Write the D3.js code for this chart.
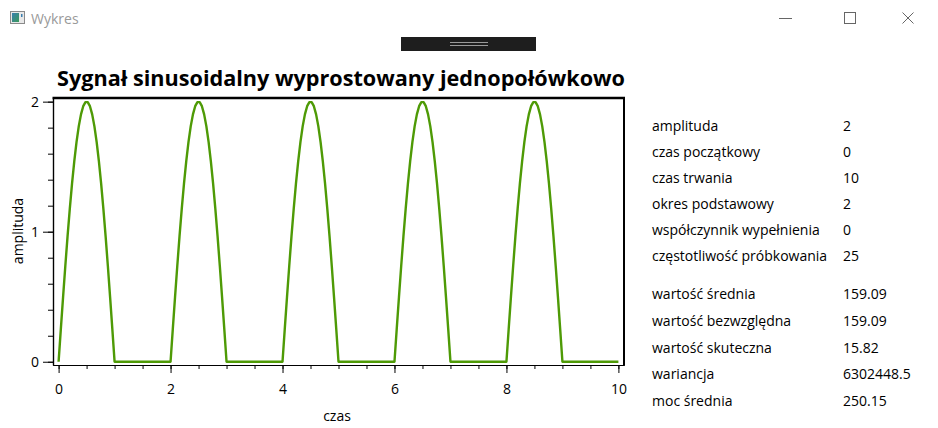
<!DOCTYPE html>
<html><head><meta charset="utf-8">
<script src="https://cdn.jsdelivr.net/npm/d3@7/dist/d3.min.js"></script>
<style>
body{margin:0;background:#fff;overflow:hidden;}
text{font-family:"Segoe UI","Open Sans","Noto Sans",sans-serif;}
</style>
</head><body>
<svg id="c" width="938" height="428"></svg>
<script>
const windowTitle = "Wykres";
const chartTitle = "Sygnał sinusoidalny wyprostowany jednopołówkowo";
const xLabel = "czas";
const yLabel = "amplituda";
const samplingRate = 25; // samples per time unit
const signalValues = [
0,0.251,0.497,0.736,0.964,1.176,1.369,1.541,1.689,1.81,1.902,1.965,1.996,1.996,1.965,1.902,1.81,1.689,1.541,1.369,1.176,0.964,0.736,0.497,0.251,
0,0,0,0,0,0,0,0,0,0,0,0,0,0,0,0,0,0,0,0,0,0,0,0,0,
0,0.251,0.497,0.736,0.964,1.176,1.369,1.541,1.689,1.81,1.902,1.965,1.996,1.996,1.965,1.902,1.81,1.689,1.541,1.369,1.176,0.964,0.736,0.497,0.251,
0,0,0,0,0,0,0,0,0,0,0,0,0,0,0,0,0,0,0,0,0,0,0,0,0,
0,0.251,0.497,0.736,0.964,1.176,1.369,1.541,1.689,1.81,1.902,1.965,1.996,1.996,1.965,1.902,1.81,1.689,1.541,1.369,1.176,0.964,0.736,0.497,0.251,
0,0,0,0,0,0,0,0,0,0,0,0,0,0,0,0,0,0,0,0,0,0,0,0,0,
0,0.251,0.497,0.736,0.964,1.176,1.369,1.541,1.689,1.81,1.902,1.965,1.996,1.996,1.965,1.902,1.81,1.689,1.541,1.369,1.176,0.964,0.736,0.497,0.251,
0,0,0,0,0,0,0,0,0,0,0,0,0,0,0,0,0,0,0,0,0,0,0,0,0,
0,0.251,0.497,0.736,0.964,1.176,1.369,1.541,1.689,1.81,1.902,1.965,1.996,1.996,1.965,1.902,1.81,1.689,1.541,1.369,1.176,0.964,0.736,0.497,0.251,
0,0,0,0,0,0,0,0,0,0,0,0,0,0,0,0,0,0,0,0,0,0,0,0,0,
0
];
const xTickLabels = [0, 2, 4, 6, 8, 10];
const yTickLabels = [0, 1, 2];
const paramNames = ["amplituda","czas początkowy","czas trwania","okres podstawowy","współczynnik wypełnienia","częstotliwość próbkowania"];
const paramValues = ["2","0","10","2","0","25"];
const statNames = ["wartość średnia","wartość bezwzględna","wartość skuteczna","wariancja","moc średnia"];
const statValues = ["159.09","159.09","15.82","6302448.5","250.15"];

const svg = d3.select("#c");
svg.append("rect").attr("width",938).attr("height",428).attr("fill","#fff");

// window chrome
const icon = svg.append("g");
icon.append("rect").attr("x",10.5).attr("y",11.5).attr("width",14).attr("height",12).attr("fill","#e8e8e8").attr("stroke","#8a8a8a");
const grad = svg.append("defs").append("linearGradient").attr("id","ig").attr("x1",0).attr("y1",0).attr("x2",1).attr("y2",1);
grad.append("stop").attr("offset",0).attr("stop-color","#3a7fb0");
grad.append("stop").attr("offset",1).attr("stop-color","#3b9a5a");
icon.append("rect").attr("x",12).attr("y",13).attr("width",7).attr("height",9).attr("fill","url(#ig)");
icon.append("rect").attr("x",21).attr("y",14).attr("width",1.5).attr("height",3).attr("fill","#3a7fb0");
svg.append("text").attr("x",31).attr("y",23.5).attr("font-size",14).attr("fill","#9a9a9a").text(windowTitle);
svg.append("line").attr("x1",779).attr("x2",792).attr("y1",18.5).attr("y2",18.5).attr("stroke","#666");
svg.append("rect").attr("x",844.5).attr("y",12.5).attr("width",11).attr("height",11).attr("fill","none").attr("stroke","#666");
svg.append("path").attr("d","M902.5,12.5L913.5,23.5M913.5,12.5L902.5,23.5").attr("stroke","#666");
// drag handle bar
svg.append("rect").attr("x",401).attr("y",37).attr("width",135).attr("height",14).attr("fill","#1e1e1e");
svg.append("line").attr("x1",450).attr("x2",488).attr("y1",42.5).attr("y2",42.5).attr("stroke","#9a9a9a");
svg.append("line").attr("x1",450).attr("x2",488).attr("y1",45.5).attr("y2",45.5).attr("stroke","#9a9a9a");

// title
svg.append("text").attr("x",57).attr("y",85.5).attr("font-size",22).attr("font-weight","bold")
  .attr("textLength",568).attr("lengthAdjust","spacingAndGlyphs").attr("fill","#000").text(chartTitle);

// scales
const x = d3.scaleLinear().domain([-0.1, 10.1]).range([53, 624]);
const y = d3.scaleLinear().domain([-0.025, 2.028]).range([365, 98]);

const ax = svg.append("g").attr("font-size",14);
// x axis
const gxMinor = ax.append("g").attr("transform","translate(0,365)")
  .call(d3.axisBottom(x).tickValues(d3.range(0,10.01,0.5)).tickSize(4).tickSizeOuter(0).tickFormat(""));
const gx = ax.append("g").attr("transform","translate(0,365)")
  .call(d3.axisBottom(x).tickValues(xTickLabels).tickSize(8).tickSizeOuter(0).tickFormat(d3.format("d")));
// y axis
const gyMinor = ax.append("g").attr("transform","translate(53,0)")
  .call(d3.axisLeft(y).tickValues(d3.range(0,2.01,0.2)).tickSize(5).tickSizeOuter(0).tickFormat(""));
const gy = ax.append("g").attr("transform","translate(53,0)")
  .call(d3.axisLeft(y).tickValues(yTickLabels).tickSize(10).tickSizeOuter(0).tickFormat(d3.format("d")));
ax.selectAll("text").attr("font-family",null).attr("font-size",14).attr("fill","#000");
gx.selectAll(".tick text").attr("dy",null).attr("y",29);
gy.selectAll(".tick text").attr("x",-14).attr("dy","0.35em");
ax.selectAll("path.domain").attr("stroke","#000").attr("stroke-width",1.2);
ax.selectAll(".tick line").attr("stroke","#000");

// plot frame top/right
svg.append("line").attr("x1",52.5).attr("x2",625).attr("y1",98).attr("y2",98).attr("stroke","#000").attr("stroke-width",2.5);
svg.append("line").attr("x1",624).attr("x2",624).attr("y1",97).attr("y2",365.5).attr("stroke","#000").attr("stroke-width",2);

// axis labels
svg.append("text").attr("x",337).attr("y",421).attr("text-anchor","middle").attr("font-size",14).attr("fill","#000").text(xLabel);
svg.append("text").attr("transform","translate(23,231) rotate(-90)").attr("text-anchor","middle").attr("font-size",14).attr("fill","#000").text(yLabel);

// signal line
const line = d3.line().x((d,i)=>x(i / samplingRate)).y(d=>y(d));
svg.append("path").datum(signalValues).attr("d",line).attr("fill","none")
  .attr("stroke","#4E9A06").attr("stroke-width",2.4).attr("stroke-linejoin","round");

// parameter table
const tbl = svg.append("g").attr("font-size",14).attr("fill","#000");
paramNames.forEach((n,i)=>{
  tbl.append("text").attr("x",652).attr("y",126 + i*26).attr("dy","0.35em").text(n);
  tbl.append("text").attr("x",843).attr("y",126 + i*26).attr("dy","0.35em").text(paramValues[i]);
});
statNames.forEach((n,i)=>{
  tbl.append("text").attr("x",652).attr("y",294 + i*26.8).attr("dy","0.35em").text(n);
  tbl.append("text").attr("x",843).attr("y",294 + i*26.8).attr("dy","0.35em").text(statValues[i]);
});
</script>
</body></html>
